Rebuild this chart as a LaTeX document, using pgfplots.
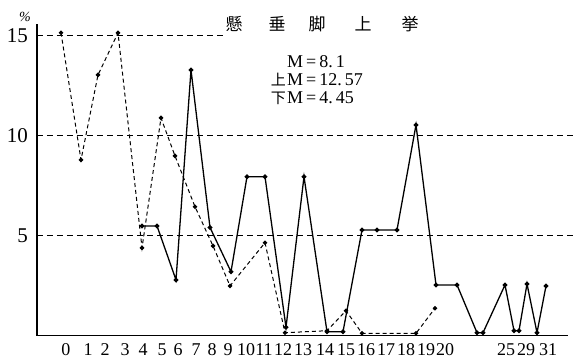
\documentclass[border=0pt]{standalone}
\usepackage{pgfplots}
\usepackage{pgfplotstable}
\pgfplotsset{compat=1.18}
\usepackage{fontspec}
\setmainfont{Liberation Serif}
\newfontfamily\cjk{Noto Sans CJK JP}

% x = horizontal position on the original chart (px), y = percent
\pgfplotstableread{
x y
61 15.14
81 8.78
98 13.03
118 15.13
142 4.38
161 10.88
175 8.98
195 6.44
213 4.48
230 2.48
265 4.64
285 0.14
327 0.24
346 1.24
362 0.11
416 0.11
435 1.36
}\dashdata

\pgfplotstableread{
x y
142 5.48
157 5.48
176 2.78
191 13.28
210 5.40
231 3.19
247 7.94
265 7.94
286 0.41
304 7.94
327 0.19
343 0.19
362 5.28
377 5.28
397 5.28
416 10.53
436 2.53
457 2.53
477 0.14
483 0.14
505 2.53
514 0.24
519 0.24
527 2.58
537 0.14
546 2.48
}\soliddata

\begin{document}
\begin{tikzpicture}
\begin{axis}[
  scale only axis, width=531pt, height=311.5pt,
  xmin=37, xmax=568, ymin=0, ymax=15.575,
  axis x line=bottom, axis y line=left,
  axis line style={-, line width=1.3pt},
  xtick={66,88,105,125,143,162,178,196,212,228,246,264,283,303,325,346,366,386,406,426,445,506,526,548},
  xticklabels={0,1,2,3,4,5,6,7,8,9,10,11,12,13,14,15,16,17,18,19,20,25,29,31},
  ytick={5,10,15},
  major tick length=0pt,
  tick style={draw=none},
  /pgf/number format/assume math mode=true,
  xticklabel style={font=\fontsize{18}{18}\selectfont, anchor=north, inner sep=0pt, yshift=-8pt},
  yticklabel style={font=\fontsize{21}{21}\selectfont, anchor=east, inner sep=0pt, xshift=-9pt},
  clip=false,
]
\coordinate (A) at (axis cs:0,16.775);
\coordinate (B) at (axis cs:575,-1.225);

\draw[line width=0.8pt, dash pattern=on 6pt off 4pt] (axis cs:37,15) -- (axis cs:224,15);
\draw[line width=0.8pt, dash pattern=on 6pt off 4pt] (axis cs:37,10) -- (axis cs:575,10);
\draw[line width=0.8pt, dash pattern=on 6pt off 4pt] (axis cs:37,5) -- (axis cs:575,5);

\addplot[black, line width=1.0pt, dash pattern=on 4pt off 3pt, mark=*, mark size=1.7pt, mark options={solid}] table {\dashdata};
\addplot[black, line width=1.3pt, mark=*, mark size=1.7pt] table {\soliddata};

\node[font=\fontsize{14}{14}\selectfont\itshape] at (axis cs:25,15.925) {\%};

\node[font=\cjk\fontsize{17}{17}\selectfont] at (axis cs:234,15.575) {懸};
\node[font=\cjk\fontsize{17}{17}\selectfont] at (axis cs:277,15.575) {垂};
\node[font=\cjk\fontsize{17}{17}\selectfont] at (axis cs:317,15.575) {脚};
\node[font=\cjk\fontsize{17}{17}\selectfont] at (axis cs:363,15.575) {上};
\node[font=\cjk\fontsize{17}{17}\selectfont] at (axis cs:410,15.575) {挙};

\node[anchor=base west, inner sep=0pt, font=\fontsize{18}{18}\selectfont] at (axis cs:287,13.425) {M\,=\,8.\,1};
\node[anchor=base west, inner sep=0pt, font=\fontsize{18}{18}\selectfont] at (axis cs:287,12.525) {M\,=\,12.\,57};
\node[anchor=base west, inner sep=0pt, font=\fontsize{18}{18}\selectfont] at (axis cs:287,11.625) {M\,=\,4.\,45};
\node[anchor=base east, inner sep=0pt, font=\cjk\fontsize{15}{15}\selectfont] at (axis cs:286,12.525) {上};
\node[anchor=base east, inner sep=0pt, font=\cjk\fontsize{15}{15}\selectfont] at (axis cs:286,11.625) {下};
\end{axis}
\pgfresetboundingbox
\path[use as bounding box] (A) rectangle (B);
\end{tikzpicture}
\end{document}
